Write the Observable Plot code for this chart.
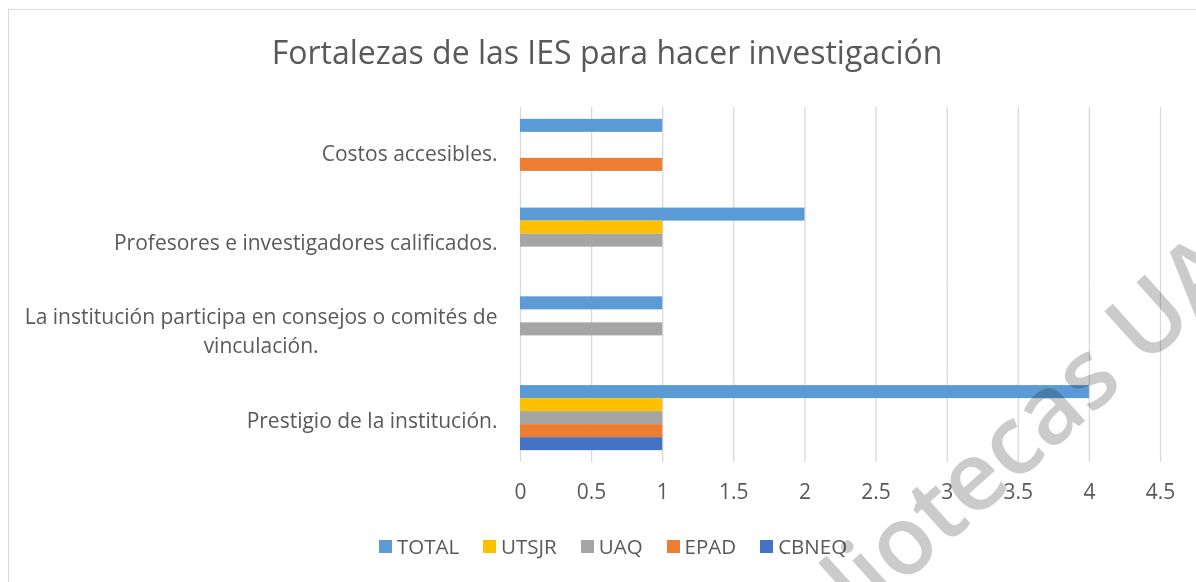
<!DOCTYPE html>
<html>
<head>
<meta charset="utf-8">
<script src="https://cdn.jsdelivr.net/npm/d3@7"></script>
<script src="https://cdn.jsdelivr.net/npm/@observablehq/plot@0.6"></script>
<style>
  html, body { margin: 0; padding: 0; background: #fff; }
  #wrap { position: relative; width: 1196px; height: 582px; overflow: hidden; font-family: "Open Sans", sans-serif; color: #595959; }
  #frame { position: absolute; left: 8px; top: 9px; width: 1300px; height: 700px; border: 1px solid #d9d9d9; box-sizing: border-box; }
  #title { position: absolute; left: 0; width: 1214px; top: 29px; text-align: center; font-size: 32px; line-height: 46px; color: #595959; }
  #chart { position: absolute; left: 0; top: 90px; }
  #legend { position: absolute; left: 0; width: 1226px; top: 531px; display: flex; justify-content: center; gap: 24px; font-size: 20.5px; line-height: 30px; color: #595959; }
  #legend .item { display: flex; align-items: center; gap: 5px; }
  #legend .sw { width: 13px; height: 13px; display: inline-block; }
  #wm { position: absolute; left: 1000px; top: 447px; transform: translate(-50%, -50%) rotate(-42deg); font-size: 96px; font-weight: 600; color: #cbcbcb; white-space: nowrap; mix-blend-mode: multiply; pointer-events: none; font-family: "Open Sans", sans-serif; }
</style>
</head>
<body>
<div id="wrap">
  <div id="frame"></div>
  <div id="title"></div>
  <div id="chart"></div>
  <div id="legend"></div>
  <div id="wm">Bibliotecas UAQ</div>
</div>
<script>
// ---- data ----
const titleText = "Fortalezas de las IES para hacer investigación";
const categories = [
  "Costos accesibles.",
  "Profesores e investigadores calificados.",
  "La institución participa en consejos o comités de vinculación.",
  "Prestigio de la institución."
];
const categoryLabels = [
  "Costos accesibles.",
  "Profesores e investigadores calificados.",
  "La institución participa en consejos o comités de\nvinculación.",
  "Prestigio de la institución."
];
const series = ["TOTAL", "UTSJR", "UAQ", "EPAD", "CBNEQ"];
const seriesColors = ["#5b9bd5", "#ffc000", "#a5a5a5", "#ed7d31", "#4472c4"];
// values per series, in the order of categories above
const TOTAL = [1, 2, 1, 4];
const UTSJR = [0, 1, 0, 1];
const UAQ   = [0, 1, 1, 1];
const EPAD  = [1, 0, 0, 1];
const CBNEQ = [0, 0, 0, 1];
const xTicks = [0, 0.5, 1, 1.5, 2, 2.5, 3, 3.5, 4, 4.5];

const valuesBySeries = {TOTAL, UTSJR, UAQ, EPAD, CBNEQ};
const data = [];
for (const s of series) categories.forEach((c, i) => data.push({category: c, series: s, value: valuesBySeries[s][i]}));
const labelOf = new Map(categories.map((c, i) => [c, categoryLabels[i]]));

document.getElementById("title").textContent = titleText;

const chart = Plot.plot({
  width: 1196,
  height: 420,
  marginLeft: 520,
  marginRight: 36,
  marginTop: 17,
  marginBottom: 48,
  style: {fontFamily: "Open Sans, sans-serif", fontSize: "20px", color: "#595959", background: "transparent"},
  x: {domain: [0, 4.5]},
  fy: {domain: categories, padding: 0, label: null, round: false},
  y: {domain: series, paddingInner: 0, paddingOuter: 0.91, axis: null, round: false},
  color: {domain: series, range: seriesColors},
  marks: [
    Plot.gridX(xTicks, {stroke: "#d9d9d9", strokeOpacity: 1, strokeWidth: 1.3}),
    Plot.barX(data, {x: "value", y: "series", fy: "category", fill: "series"}),
    Plot.axisX({ticks: xTicks, tickSize: 0, tickPadding: 22, label: null, fontSize: 21, tickFormat: d => String(d)}),
    Plot.axisFy({anchor: "left", tickSize: 0, tickPadding: 23, label: null, fontSize: 21, lineHeight: 1.4, tickFormat: d => labelOf.get(d)})
  ]
});
document.getElementById("chart").appendChild(chart);

// center the lines of multi-line category labels (as in the original)
chart.querySelectorAll("text").forEach(t => {
  const spans = t.querySelectorAll("tspan");
  if (spans.length > 1) {
    const w = t.getBBox().width;
    t.setAttribute("text-anchor", "middle");
    spans.forEach(s => s.setAttribute("x", -w / 2));
  }
});

// legend
const legend = document.getElementById("legend");
series.forEach((s, i) => {
  const item = document.createElement("div");
  item.className = "item";
  const sw = document.createElement("span");
  sw.className = "sw";
  sw.style.background = seriesColors[i];
  const lab = document.createElement("span");
  lab.textContent = s;
  item.appendChild(sw);
  item.appendChild(lab);
  legend.appendChild(item);
});
</script>
</body>
</html>
